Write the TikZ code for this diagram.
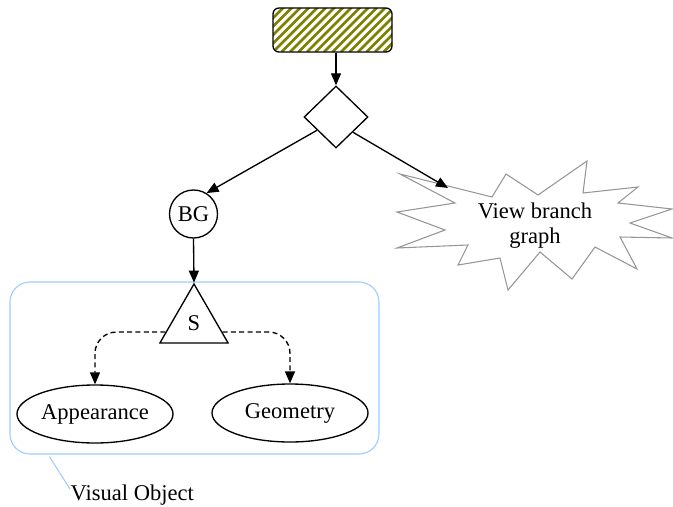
\documentclass[tikz,border=0pt]{standalone}
\usepackage{fontspec}
\setmainfont{Liberation Serif}
\usetikzlibrary{shapes.geometric,arrows.meta,calc}
\definecolor{boxblue}{RGB}{153,204,255}
\definecolor{stargray}{RGB}{150,150,150}
\definecolor{stripecol}{RGB}{128,128,0}
\begin{document}
\begin{tikzpicture}[x=0.75pt,y=-0.75pt,
  font=\fontsize{16.9}{18.75}\selectfont, line width=1pt,
  edge/.style={-{Triangle[length=9pt,width=7.5pt]}},
  softedge/.style={edge, dash pattern=on 3.75pt off 2.5pt, rounded corners=16pt},
  stripebox/.style={draw, rounded corners=4.5pt, minimum width=89.25pt,
    minimum height=33pt, inner sep=0pt,
    path picture={
      \foreach \k in {-8,...,22}{
        \draw[stripecol, line width=1.9pt, sharp corners]
          ($(path picture bounding box.south west)+(\k*8.5,0)$) -- ++(45:70pt);
      }}},
  choice/.style={draw, diamond, minimum width=48pt, minimum height=46.5pt, inner sep=0pt},
  bgnode/.style={draw, circle, minimum size=36pt, inner sep=0pt},
  tri/.style={draw, regular polygon, regular polygon sides=3, minimum size=59pt, inner sep=0pt},
  oval/.style={draw, ellipse, minimum width=117pt, minimum height=43.5pt, inner sep=0pt},
  groupbox/.style={draw=boxblue, line width=0.8pt, rounded corners=15pt,
    minimum width=276.75pt, minimum height=129pt, inner sep=0pt},
  burst/.style={draw=stargray, line width=0.8pt}
]
\useasboundingbox (0,0) rectangle (673,506);

% grouping frame
\node[groupbox] (grp) at (194.5,368) {};

% nodes
\node[stripebox] (top) at (332.5,30) {};
\node[choice] (dm) at (336,117) {};
\node[bgnode] (bg) at (193.5,214) {BG};
\node[tri] (s) at (194,323.3) {S};
\node[oval] (app) at (95,414) {Appearance};
\node[oval] (geo) at (290,413) {Geometry};

% starburst outline
\draw[burst] (400,174) -- (492,197) -- (506,174) -- (538,195) -- (587,161)
  -- (583,193) -- (638,187) -- (618,203) -- (672,209) -- (630,223)
  -- (672,238) -- (620,237) -- (637,269) -- (595,247) -- (572,279)
  -- (540,252) -- (508,290) -- (500,258) -- (458,265) -- (468,245)
  -- (397,248) -- (445,230) -- (397,212) -- (455,203) -- cycle;
\node[align=center, inner sep=0pt] (vb) at (535,226) {View branch\\graph};
\coordinate (vbin) at (448,188);

% label of the frame
\node[inner sep=0pt, anchor=base west] (vol) at (70,500) {Visual Object};
\draw[boxblue, line width=0.8pt] ($(grp.south west)+(40,2)$)
  -- ($(vol.north west)!0.25!(vol.south west)$);

% connectors
\draw[edge] (dm.north |- top.south) -- (dm.north);
\draw[edge] (dm.215) -- (bg.58);
\draw[edge] (dm.318) -- (vbin);
\draw[edge] (bg.south) -- (s.corner 1);
\draw[softedge] ($(s.corner 2)!0.19!(s.corner 1)$) -| (app.north);
\draw[softedge] ($(s.corner 3)!0.19!(s.corner 1)$) -| (geo.north);
\end{tikzpicture}
\end{document}
